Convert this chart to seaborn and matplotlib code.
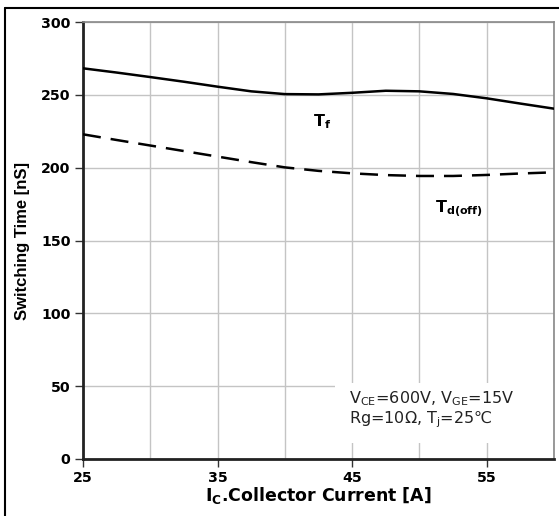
import matplotlib
matplotlib.use("Agg")
import matplotlib.pyplot as plt
import seaborn as sns
import pandas as pd
from matplotlib.lines import Line2D
from matplotlib.patches import Rectangle

sns.set_theme(style="whitegrid")
plt.rcParams['font.family'] = ['DejaVu Sans', 'Liberation Sans']
plt.rcParams['mathtext.fontset'] = 'dejavusans'
plt.rcParams['text.color'] = 'black'
plt.rcParams['axes.labelcolor'] = 'black'
plt.rcParams['xtick.color'] = 'black'
plt.rcParams['ytick.color'] = 'black'

# Data
current = [25, 27.5, 30, 32.5, 35, 37.5, 40, 42.5, 45, 47.5, 50, 52.5, 55, 57.5, 60]
tf = [268.2, 265.3, 262.2, 259.0, 255.6, 252.4, 250.5, 250.3, 251.4, 252.8, 252.4, 250.6, 247.6, 244.0, 240.5]
td_off = [222.9, 219.0, 215.2, 211.4, 207.6, 203.8, 200.2, 197.8, 196.1, 194.9, 194.3, 194.3, 195.0, 196.0, 196.8]

x_ticks = [25, 35, 45, 55]
y_ticks = [0, 50, 100, 150, 200, 250, 300]

df = pd.DataFrame({"Ic": current * 2,
                   "t": tf + td_off,
                   "curve": ["Tf"] * len(current) + ["Td(off)"] * len(current)})

fig = plt.figure(figsize=(5.59, 5.16), dpi=100)
ax = fig.add_axes([83/559, 1 - 459/516, (554-83)/559, (459-22)/516])

sns.lineplot(data=df, x="Ic", y="t", style="curve", dashes={"Tf": "", "Td(off)": (7.2, 4)},
             color="black", linewidth=1.8, ax=ax, legend=False, estimator=None, sort=True, zorder=3)

ax.set_xlim(25, 60)
ax.set_ylim(0, 300)
ax.set_xticks(x_ticks)
ax.set_xticks([30, 40, 50, 60], minor=True)
ax.set_yticks(y_ticks)
ax.grid(True, which="both", color="#c4c4c4", linewidth=1.0)
ax.set_axisbelow(True)

for lbl in ax.get_xticklabels() + ax.get_yticklabels():
    lbl.set_fontweight("bold")
    lbl.set_fontsize(10.2)
    lbl.set_family("DejaVu Sans")
    lbl.set_color("black")
ax.tick_params(axis="both", which="major", length=6, width=1, color="#333333", pad=3, direction="out",
               bottom=True, left=True)
ax.tick_params(axis="x", which="minor", length=0)

for side in ["left", "bottom"]:
    ax.spines[side].set_color("#222222")
    ax.spines[side].set_linewidth(2)
for side in ["top", "right"]:
    ax.spines[side].set_color("#888888")
    ax.spines[side].set_linewidth(1.2)

ax.set_xlabel("I$_\\mathregular{C}$.Collector Current [A]", fontsize=12.5, fontweight="bold",
              family="DejaVu Sans", va="center", ha="center", color="black")
ax.xaxis.set_label_coords(0.5, (459 - 495) / 437)
ax.set_ylabel("Switching Time [nS]", fontsize=12, fontweight="bold", family="Liberation Sans",
              va="center", ha="center", color="black")
ax.yaxis.set_label_coords((23 - 83) / 471, 0.5)

ax.text(42.1, 228.1, "T$_\\mathregular{f}$", fontsize=11.5, fontweight="bold", ha="left", va="baseline",
        color="black")
ax.text(51.15, 168.9, "T$_\\mathregular{d(off)}$", fontsize=11.5, fontweight="bold", ha="left", va="baseline",
        color="black")

# white background behind the conditions note
ax.add_patch(Rectangle((43.7, 11), 60 - 43.7, 52.2 - 11, facecolor="white", edgecolor="none", zorder=1))
ax.text(44.8, 38.4, "V$_\\mathregular{CE}$=600V, V$_\\mathregular{GE}$=15V",
        fontsize=11.5, ha="left", va="baseline", zorder=4, color="#222222")
ax.text(44.8, 24.7, "Rg=10Ω, T$_\\mathregular{j}$=25℃",
        fontsize=11.5, ha="left", va="baseline", zorder=4, color="#222222")

# outer frame (top and left visible)
fig.add_artist(Line2D([5/559, 5/559], [0, 1 - 8/516], color="black", linewidth=1.5, transform=fig.transFigure))
fig.add_artist(Line2D([5/559, 1], [1 - 8/516, 1 - 8/516], color="black", linewidth=1.5, transform=fig.transFigure))

fig.savefig("out.png", dpi=100)
